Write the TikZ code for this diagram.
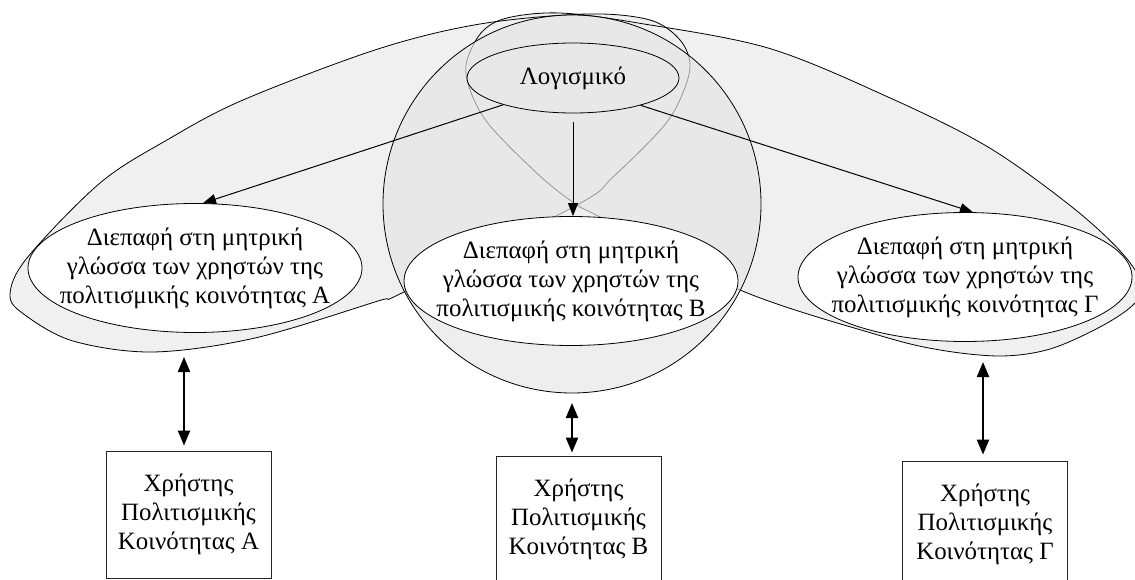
\documentclass[tikz,border=0pt]{standalone}
\usepackage{fontspec}
\setmainfont{Liberation Serif}
\usetikzlibrary{shapes.geometric,arrows.meta,calc}
\begin{document}
\begin{tikzpicture}[x=1bp,y=-1bp,
  txt/.style={font=\fontsize{25}{29}\selectfont},
  btxt/.style={font=\fontsize{25}{29}\selectfont},
  loopfill/.style={fill=black!6, draw=none},
  loopline/.style={draw=black, line width=0.8bp},
  iface/.style={ellipse, draw=black, line width=0.8bp, fill=white, inner sep=0pt,
    minimum width=334bp, minimum height=129bp},
  ifacetext/.style={align=center, inner sep=0pt, txt},
  soft/.style={ellipse, draw=black, line width=0.8bp, inner sep=0pt,
    minimum width=212bp, minimum height=70bp, txt},
  user/.style={rectangle, draw=black!85, line width=0.8bp, fill=white, inner sep=0pt,
    minimum width=165bp, minimum height=127bp, align=center, btxt},
  thinarrow/.style={-{Triangle[length=13bp,width=10bp]}, line width=1bp},
  dblarrow/.style={{Triangle[length=15bp,width=12bp]}-{Triangle[length=15bp,width=12bp]}, line width=2.2bp}
]
\useasboundingbox (0,0) rectangle (1135,580);
\clip (0,0) rectangle (1135,580);

% loop fills
\path[loopfill] plot[smooth cycle, tension=0.55] coordinates {
  (10,295) (27,258) (100,183) (167,140) (243,100) (378,49) (480,24) (587,14)
  (650,20) (680,40) (690,65) (682,95) (663,127) (613,177) (577,205) (404,292)
  (378,301) (255,338) (153,352) (73,341) (25,315)};
\path[loopfill] plot[smooth cycle, tension=0.55] coordinates {
  (481,33) (507,18) (560,13) (638,23) (768,48) (888,97) (988,147) (1072,207)
  (1122,253) (1142,285) (1133,305) (1100,327) (1050,349) (1001,356) (940,350)
  (878,335) (740,290) (600,217) (577,205) (541,177) (491,127) (472,95) (466,65)};
% loop outlines
\path[loopline] plot[smooth cycle, tension=0.55] coordinates {
  (10,295) (27,258) (100,183) (167,140) (243,100) (378,49) (480,24) (587,14)
  (650,20) (680,40) (690,65) (682,95) (663,127) (613,177) (577,205) (404,292)
  (378,301) (255,338) (153,352) (73,341) (25,315)};
\path[loopline] plot[smooth cycle, tension=0.55] coordinates {
  (481,33) (507,18) (560,13) (638,23) (768,48) (888,97) (988,147) (1072,207)
  (1122,253) (1142,285) (1133,305) (1100,327) (1050,349) (1001,356) (940,350)
  (878,335) (740,290) (600,217) (577,205) (541,177) (491,127) (472,95) (466,65)};

% central circle
\node[circle, minimum size=378bp, inner sep=0pt, fill=black!10, fill opacity=0.65,
  draw=black, draw opacity=1, line width=0.8bp] (circ) at (572,204) {};

% nodes
\node[soft] (log) at (573,78) {Λογισμικό};
\node[iface] (A) at (195,268) {};
\node[ifacetext] (At) at (A) {Διεπαφή στη μητρική\\γλώσσα των χρηστών της\\πολιτισμικής κοινότητας Α};
\node[iface] (B) at (571,281) {};
\node[ifacetext] (Bt) at (B) {Διεπαφή στη μητρική\\γλώσσα των χρηστών της\\πολιτισμικής κοινότητας Β};
\node[iface] (C) at (965,277) {};
\node[ifacetext] (Ct) at (C) {Διεπαφή στη μητρική\\γλώσσα των χρηστών της\\πολιτισμικής κοινότητας Γ};

\node[user] (uA) at (188.5,514.5) {Χρήστης\\Πολιτισμικής\\Κοινότητας Α};
\node[user] (uB) at (578.5,519.5) {Χρήστης\\Πολιτισμικής\\Κοινότητας Β};
\node[user] (uC) at (985,524.5) {Χρήστης\\Πολιτισμικής\\Κοινότητας Γ};

% arrows from software
\draw[thinarrow] (log.201.7) -- (A.83);
\draw[thinarrow, shorten <=9bp] (log.south) -- (log.south |- B.north);
\draw[thinarrow] (log.338.7) -- (C.83);

% double arrows
\coordinate (dA) at (184,357);
\coordinate (dB) at (572,403);
\coordinate (dC) at (983,362);
\draw[dblarrow, shorten >=5bp] (dA) -- (dA |- uA.north);
\draw[dblarrow, shorten >=3bp] (dB) -- (dB |- uB.north);
\draw[dblarrow, shorten >=6bp] (dC) -- (dC |- uC.north);
\end{tikzpicture}
\end{document}
